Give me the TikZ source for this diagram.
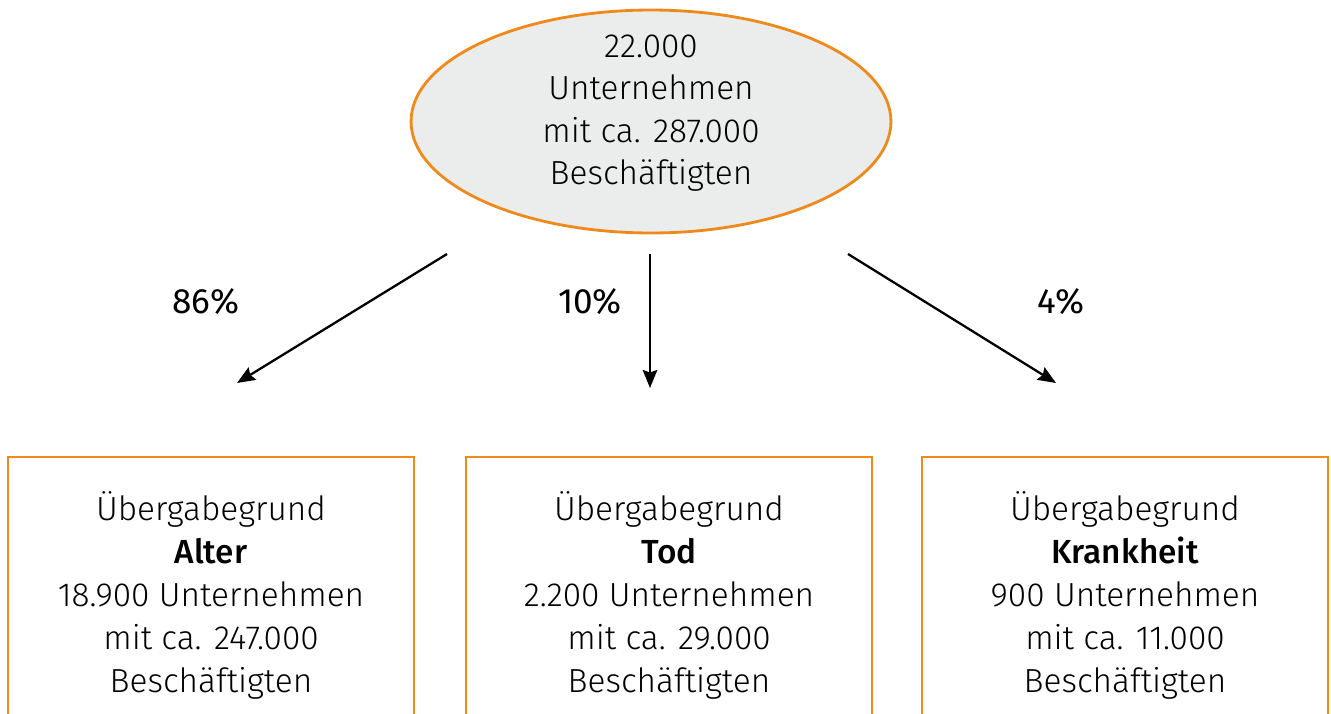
\documentclass[tikz,border=0pt]{standalone}
\usepackage{fontspec}
\setmainfont{Fira Sans Light}[BoldFont={Fira Sans Medium}]
\newfontfamily\pctfont{Fira Sans}
\usetikzlibrary{arrows.meta,shapes.geometric}
\definecolor{orangeline}{HTML}{EF8A1A}
\definecolor{ovalgray}{HTML}{EBECEC}
\tikzset{
  oval/.style={draw=orangeline, ellipse, fill=ovalgray, line width=1.6pt, inner sep=0pt, minimum width=9.6cm, minimum height=4.46cm, align=center, font=\fontsize{19pt}{24.2pt}\selectfont, text height=2.54cm, text depth=0pt},
  reason/.style={draw=orangeline, rectangle, fill=white, line width=1.2pt, inner sep=0pt, minimum width=8.12cm, minimum height=5.54cm, align=center, font=\fontsize{19pt}{24.4pt}\selectfont},
  share/.style={font=\pctfont\fontsize{20pt}{24pt}\selectfont},
  arrow/.style={-{Stealth[length=0.36cm, width=0.29cm, inset=0.05cm]}, line width=1.3pt, draw=black}
}
\begin{document}
\begin{tikzpicture}[x=0.02cm, y=-0.02cm]
  \useasboundingbox (0,0) rectangle (1331,713);
  \clip (0,0) rectangle (1331,713);

  \node[oval] (total) at (651,121.5) {22.000\\Unternehmen\\mit ca. 287.000\\Beschäftigten};

  \node[reason] (alter) at (211,595.5) {Übergabegrund\\\textbf{Alter}\\18.900 Unternehmen\\mit ca. 247.000\\Beschäftigten};
  \node[reason] (tod) at (669,595.5) {Übergabegrund\\\textbf{Tod}\\2.200 Unternehmen\\mit ca. 29.000\\Beschäftigten};
  \node[reason] (krank) at (1125,595.5) {Übergabegrund\\\textbf{Krankheit}\\900 Unternehmen\\mit ca. 11.000\\Beschäftigten};

  \coordinate (alterS) at (447,254);
  \coordinate (alterE) at (237,383);
  \coordinate (todS) at (650,254);
  \coordinate (todE) at (650,388);
  \coordinate (krankS) at (848,254);
  \coordinate (krankE) at (1056,383);

  \draw[arrow] (alterS) -- (alterE);
  \draw[arrow] (todS) -- (todE);
  \draw[arrow] (krankS) -- (krankE);

  \node[share] (alterP) at (206,302) {86\%};
  \node[share] (todP) at (590,302) {10\%};
  \node[share] (krankP) at (1061,302) {4\%};
\end{tikzpicture}
\end{document}
